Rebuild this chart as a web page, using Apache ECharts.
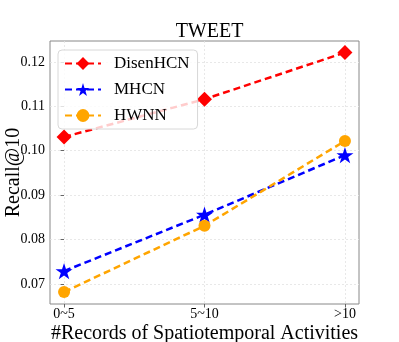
<!DOCTYPE html>
<html>
<head>
<meta charset="utf-8">
<script src="https://cdn.jsdelivr.net/npm/echarts@6/dist/echarts.min.js"></script>
<style>
  html, body { margin: 0; padding: 0; background: #fff; }
  #chart { width: 399px; height: 342px; }
</style>
</head>
<body>
<div id="chart"></div>
<script>
const categories = ["0~5", "5~10", ">10"];
const disenHCN = [0.1031, 0.1116, 0.1221];
const mhcn = [0.0729, 0.0856, 0.0990];
const hwnn = [0.0682, 0.0831, 0.1022];
const yTicks = [0.07, 0.08, 0.09, 0.10, 0.11, 0.12];

const font = "Liberation Serif";
const starPath =
  "path://M100,0L122.45,69.1L195.11,69.1L136.33,111.8L158.78,180.9L100,138.2L41.22,180.9L63.67,111.8L4.89,69.1L77.55,69.1Z";

function toPoints(arr) {
  return arr.map((v, i) => [i, v]);
}

function makeSeries(name, data, color, symbol, size) {
  return {
    name: name,
    type: "line",
    data: toPoints(data),
    symbol: symbol,
    symbolSize: size,
    symbolKeepAspect: true,
    showSymbol: true,
    lineStyle: { color: color, width: 2.5, type: [7, 4] },
    itemStyle: { color: color },
    emphasis: { disabled: true },
    z: 3,
  };
}

const myChart = echarts.init(document.getElementById("chart"));
const option = {
  animation: false,
  backgroundColor: "#fff",
  title: {
    text: "TWEET",
    left: 204.5,
    top: 17,
    textAlign: "center",
    textStyle: { fontFamily: font, fontSize: 20, fontWeight: "normal", color: "#000" },
  },
  legend: {
    orient: "vertical",
    left: 58,
    top: 50,
    padding: [5, 8, 5, 6],
    itemGap: 9,
    itemWidth: 36,
    itemHeight: 16,
    backgroundColor: "rgba(255,255,255,0.8)",
    borderColor: "#d8d8d8",
    borderWidth: 1,
    borderRadius: 4,
    textStyle: { fontFamily: font, fontSize: 17, color: "#000", padding: [0, 0, 0, 8] },
    data: ["DisenHCN", "MHCN", "HWNN"],
  },
  grid: {
    left: 50,
    top: 41,
    width: 309,
    height: 263,
    show: true,
    borderColor: "#888",
    borderWidth: 1,
    containLabel: false,
    outerBoundsMode: "none",
  },
  xAxis: {
    type: "value",
    min: -0.1,
    max: 2.1,
    name: "#Records of Spatiotemporal Activities",
    nameLocation: "middle",
    nameGap: 20,
    nameMoveOverlap: false,
    nameTextStyle: { fontFamily: font, fontSize: 20, color: "#000", verticalAlign: "top" },
    axisLine: { show: false },
    axisTick: {
      show: true,
      inside: false,
      length: 3.5,
      customValues: [0, 1, 2],
      lineStyle: { color: "#666" },
    },
    axisLabel: {
      customValues: [0, 1, 2],
      formatter: (v) => categories[Math.round(v)],
      fontFamily: font,
      fontSize: 14,
      color: "#000",
      margin: 3,
    },
    splitLine: {
      show: true,
      customValues: [0, 1, 2],
      lineStyle: { color: "#e3e3e3", type: [2, 2], width: 0.8 },
    },
  },
  yAxis: {
    type: "value",
    min: 0.0655,
    max: 0.1247,
    name: "Recall@10",
    nameLocation: "middle",
    nameGap: 26,
    nameMoveOverlap: false,
    nameTextStyle: { fontFamily: font, fontSize: 20, color: "#000" },
    axisLine: { show: false },
    axisTick: {
      show: true,
      length: 3.5,
      customValues: yTicks,
      lineStyle: { color: "#666" },
    },
    axisLabel: {
      customValues: yTicks,
      formatter: (v) => v.toFixed(2),
      fontFamily: font,
      fontSize: 14,
      color: "#000",
      margin: 5,
    },
    splitLine: {
      show: true,
      customValues: yTicks,
      lineStyle: { color: "#e3e3e3", type: [2, 2], width: 0.8 },
    },
  },
  series: [
    makeSeries("DisenHCN", disenHCN, "#ff0000", "diamond", [15, 15]),
    makeSeries("MHCN", mhcn, "#0000ff", starPath, 17),
    makeSeries("HWNN", hwnn, "#ffa500", "circle", 12),
  ],
};
myChart.setOption(option);
</script>
</body>
</html>
